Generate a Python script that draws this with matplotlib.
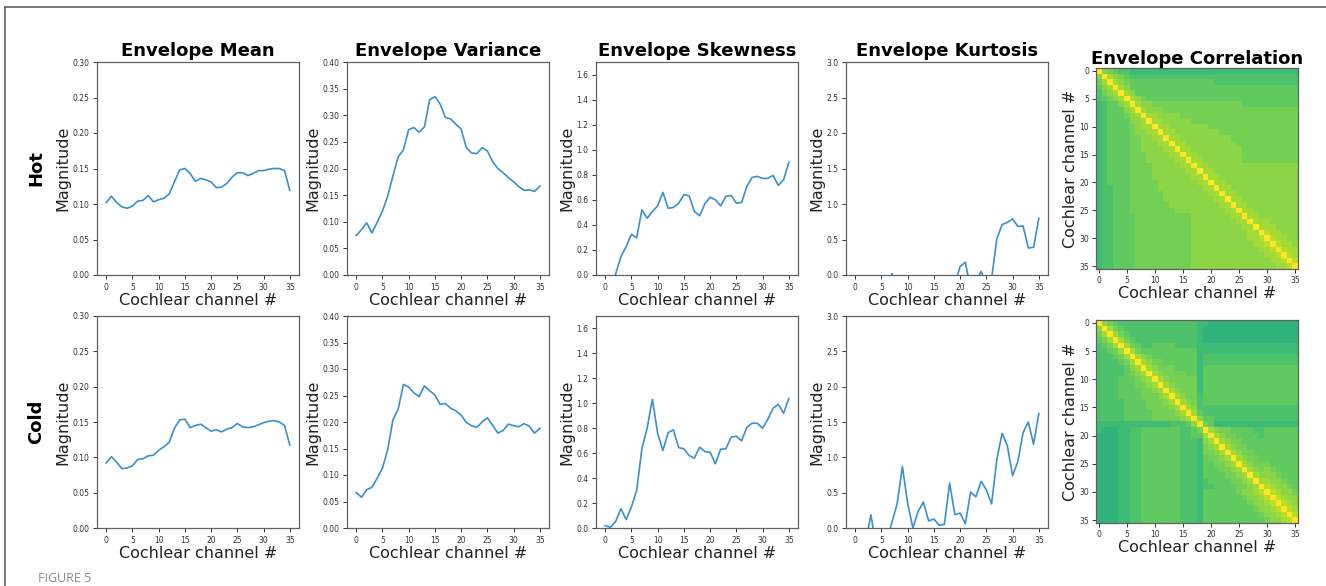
import numpy as np
import matplotlib
matplotlib.use("Agg")
import matplotlib.pyplot as plt
from matplotlib.lines import Line2D

# ---------------------------------------------------------------- data
channels = np.arange(36)
channel_ticks = [0, 5, 10, 15, 20, 25, 30, 35]

stat_titles = ["Envelope Mean", "Envelope Variance", "Envelope Skewness",
               "Envelope Kurtosis", "Envelope Correlation"]
row_labels = ["Hot", "Cold"]

hot_mean = [0.102, 0.111, 0.102, 0.096, 0.094, 0.097, 0.104, 0.105, 0.112, 0.103,
            0.106, 0.108, 0.114, 0.131, 0.148, 0.150, 0.143, 0.132, 0.136, 0.134,
            0.131, 0.123, 0.124, 0.129, 0.138, 0.144, 0.144, 0.140, 0.143, 0.147,
            0.147, 0.149, 0.150, 0.150, 0.147, 0.119]
cold_mean = [0.092, 0.101, 0.093, 0.084, 0.085, 0.088, 0.097, 0.098, 0.102, 0.103,
             0.110, 0.115, 0.121, 0.141, 0.153, 0.154, 0.142, 0.145, 0.147, 0.142,
             0.137, 0.139, 0.136, 0.140, 0.142, 0.148, 0.143, 0.142, 0.143, 0.146,
             0.149, 0.151, 0.152, 0.150, 0.145, 0.117]

hot_var = [0.074, 0.085, 0.098, 0.079, 0.099, 0.120, 0.148, 0.186, 0.222, 0.235,
           0.273, 0.277, 0.268, 0.278, 0.329, 0.335, 0.321, 0.296, 0.293, 0.283,
           0.274, 0.239, 0.229, 0.228, 0.239, 0.233, 0.213, 0.200, 0.192, 0.183,
           0.175, 0.166, 0.159, 0.160, 0.157, 0.167]
cold_var = [0.067, 0.058, 0.072, 0.077, 0.094, 0.113, 0.147, 0.204, 0.224, 0.271,
            0.266, 0.255, 0.248, 0.268, 0.259, 0.251, 0.233, 0.235, 0.226, 0.221,
            0.213, 0.199, 0.193, 0.190, 0.200, 0.208, 0.194, 0.179, 0.184, 0.196,
            0.193, 0.191, 0.197, 0.192, 0.179, 0.188]

hot_skew = [-0.25, -0.12, 0.01, 0.147, 0.227, 0.325, 0.296, 0.520, 0.453, 0.507,
            0.552, 0.659, 0.533, 0.539, 0.573, 0.640, 0.632, 0.507, 0.472, 0.568,
            0.621, 0.600, 0.552, 0.627, 0.635, 0.573, 0.579, 0.707, 0.779, 0.787,
            0.771, 0.771, 0.795, 0.715, 0.760, 0.899]
cold_skew = [0.019, 0.005, 0.053, 0.155, 0.067, 0.168, 0.301, 0.637, 0.800, 1.032,
             0.760, 0.621, 0.765, 0.787, 0.645, 0.635, 0.581, 0.560, 0.648, 0.613,
             0.608, 0.515, 0.632, 0.635, 0.728, 0.736, 0.699, 0.808, 0.840, 0.840,
             0.800, 0.872, 0.960, 0.992, 0.920, 1.037]

hot_kurt = [-0.45, -0.40, -0.35, -0.30, -0.25, -0.20, -0.15, 0.02, -0.20, -0.30,
            -0.35, -0.40, -0.40, -0.35, -0.35, -0.30, -0.30, -0.25, -0.20, -0.12,
            0.118, 0.180, -0.20, -0.10, 0.05, -0.10, -0.05, 0.510, 0.710, 0.740,
            0.790, 0.685, 0.690, 0.380, 0.390, 0.800]
cold_kurt = [-0.40, -0.30, -0.19, 0.188, -0.28, -0.40, -0.20, 0.08, 0.343, 0.870,
             0.350, 0.000, 0.235, 0.367, 0.100, 0.127, 0.040, 0.050, 0.635, 0.190,
             0.210, 0.060, 0.510, 0.440, 0.660, 0.540, 0.340, 0.970, 1.340, 1.165,
             0.740, 0.940, 1.350, 1.500, 1.185, 1.620]

# correlation matrices: lower triangle, one run-length row per channel (1..35),
# each digit is a correlation level, the diagonal is 1
level_base, level_step = 0.58, 0.035
hot_corr_rows = [
    "7", "6,8", "5,7,8", "4,6,7,8", "4,5,6,7,8",
    "3,4,5*2,7,8", "3,4,5*3,7,8", "3,4,5*3,6,7,8", "3,4,5*4,7*2,8",
    "3,4,5*4,6,7,8*2", "3,4,5*4,6,7*2,8*2", "3,4,5*4,6*2,7*2,8*2",
    "3,4,5*4,6*2,7*3,8*2", "3,4,5*4,6*2,7*4,8*2", "3,4,5*4,6*3,7*4,8*2",
    "3,4,5*4,6*3,7*5,8*2", "3,4,5*4,6*4,7*5,8*2", "3,4,5*4,6*4,7*6,8*2",
    "3,4,5*4,6*4,7*7,8*2", "3,4,5*4,6*5,7*7,8*2", "3,4*2,5*3,6*5,7*8,8*2",
    "3,4*2,5*3,6*6,7*8,8*2", "3,4*2,5*3,6*6,7*9,8*2", "3,4*2,5*3,6*7,7*9,8*2",
    "3,4*2,5*3,6*8,7*9,8*2",
    "3,4*2,5*4,6*10,7*7,8*2", "3,4*2,5*4,6*10,7*8,8*2",
    "3,4*2,5*4,6*10,7*9,8*2", "3,4*2,5*4,6*10,7*10,8*2",
    "3,4*2,5*4,6*10,7*10,8*2,9", "3,4*2,5*4,6*10,7*11,8*2,9",
    "3,4*2,5*4,6*10,7*12,8*2,9", "3,4*2,5*4,6*10,7*13,8*2,9",
    "3,4*2,5*4,6*10,7*14,8*2,9", "3,4*2,5*4,6*10,7*15,8*2,9",
]
cold_corr_rows = [
    "7", "6,8", "5,6,8", "4,5,6,8", "4*2,5,6,8",
    "4*3,5,6,8", "4*4,5,6,8", "4*5,5,7,8", "4*5,5,6,7,8",
    "4*4,5*3,6,7,8", "4*4,5*3,6*2,7,8", "4*4,5*4,6*2,7,8",
    "4*4,5*4,6*3,7,8", "4*5,5*4,6*3,7,8", "4*5,5*4,6*4,7,8",
    "4*5,5*5,6*4,7,8", "4*5,5*5,6*5,7,8",
    "3*13,4*3,5,7",
    "3,2*3,3*2,4*2,5*7,4*2,5,6",
    "2*4,3*2,4*2,5*7,4*2,5*2,8",
    "2*4,3*2,4*2,5*7,4*3,3,7,8",
    "2*4,3*2,4*2,5*7,4*3,3,6,7,8",
    "2*4,3*2,4*2,5*7,4*3,3,6*2,7,8",
    "2*4,3*2,4*2,5*7,4*3,3,5,6*2,7,8",
    "2*4,3*2,4*2,5*7,4*3,3,5*2,6*2,7,8",
    "2*4,3*2,4*2,5*7,4*3,3,5*3,6*2,7,8",
    "2*4,3*2,4*2,5*7,4*3,3,5*4,6*2,7,8",
    "2*4,3*2,4*2,5*7,4*3,3,4,5*4,6*2,7,8",
    "2*4,3*2,4*2,5*7,4*3,3,4*2,5*4,6*2,7,8",
    "2*4,3*2,4*2,5*7,4*3,3,5*6,6,7*2,8,9",
    "2*4,3*2,4*2,5*7,4*3,3,5*7,6,7*2,8,9",
    "2*4,3*2,4*2,5*7,4*3,3,5*8,6,7*2,8,9",
    "2*4,3*2,4*2,5*7,4*3,3,5*9,6,7*2,8,9",
    "2*4,3*2,4*2,5*7,4*3,3,5*10,6,7*2,8,9",
    "2*4,3*2,4*2,5*7,4*3,3,5*11,6,7*2,8,9",
]

mag_limits = [(0, 0.30), (0, 0.40), (0, 1.7), (0, 3.0)]
mag_ticks = [np.arange(0, 0.301, 0.05), np.arange(0, 0.401, 0.05),
             np.arange(0, 1.61, 0.2), np.arange(0, 3.01, 0.5)]
mag_fmt = ["{:.2f}", "{:.2f}", "{:.1f}", "{:.1f}"]

series = [[hot_mean, hot_var, hot_skew, hot_kurt],
          [cold_mean, cold_var, cold_skew, cold_kurt]]
corr_rows = [hot_corr_rows, cold_corr_rows]


def lower_triangle_matrix(rows):
    n = len(rows) + 1
    m = np.ones((n, n))
    for i, row in enumerate(rows, start=1):
        levels = []
        for tok in row.split(","):
            if "*" in tok:
                d, c = tok.split("*")
                levels += [int(d)] * int(c)
            else:
                levels.append(int(tok))
        vals = level_base + level_step * np.array(levels[:i], dtype=float)
        m[i, :len(vals)] = vals
        m[:len(vals), i] = vals
    return m


# ---------------------------------------------------------------- figure
W, H = 1326, 586
fig = plt.figure(figsize=(W / 100, H / 100), dpi=100)
fig.patch.set_facecolor("white")


def axes_px(left, top, right, bottom):
    return fig.add_axes([left / W, 1 - bottom / H, (right - left) / W, (bottom - top) / H])


line_lefts = [97, 347, 596, 846]
row_boxes = [(62, 275), (316, 528)]
heat_boxes = [(68, 269), (320, 523)]
spine_color = "#606060"
tick_color = "#333333"

for r in range(2):
    top, bottom = row_boxes[r]
    for c in range(4):
        ax = axes_px(line_lefts[c], top, line_lefts[c] + 202, bottom)
        ax.plot(channels, series[r][c], color="#3a8fd0", lw=1.2)
        ax.set_xlim(-1.75, 36.75)
        ax.set_ylim(*mag_limits[c])
        ax.set_xticks(channel_ticks)
        ax.set_yticks(mag_ticks[c])
        ax.set_yticklabels([mag_fmt[c].format(v) for v in mag_ticks[c]])
        ax.tick_params(labelsize=5.5, length=3, width=0.7, colors=tick_color, pad=2.5)
        for s in ax.spines.values():
            s.set_color(spine_color)
            s.set_linewidth(0.9)
        ax.set_xlabel("Cochlear channel #", fontsize=11.5, color="#222222", labelpad=1)
        ax.set_ylabel("Magnitude", fontsize=11.5, color="#222222", labelpad=1.5)
        if r == 0:
            ax.set_title(stat_titles[c], fontsize=13, fontweight="bold", pad=4)

    htop, hbottom = heat_boxes[r]
    hax = axes_px(1096, htop, 1298, hbottom)
    hax.imshow(lower_triangle_matrix(corr_rows[r]), cmap="viridis", vmin=0, vmax=1,
               aspect="auto", interpolation="nearest")
    hax.set_xticks(channel_ticks)
    hax.set_yticks(channel_ticks)
    hax.tick_params(labelsize=5.5, length=3, width=0.7, colors=tick_color, pad=2)
    for s in hax.spines.values():
        s.set_color(spine_color)
        s.set_linewidth(0.9)
    hax.set_xlabel("Cochlear channel #", fontsize=11.5, color="#222222", labelpad=1)
    hax.set_ylabel("Cochlear channel #", fontsize=11.5, color="#222222", labelpad=1)
    if r == 0:
        hax.set_title(stat_titles[4], fontsize=13, fontweight="bold", pad=2)

    fig.text(36 / W, 1 - (top + bottom) / 2 / H, row_labels[r], rotation=90,
             fontsize=13, fontweight="bold", ha="center", va="center")

# page frame and caption
fig.add_artist(Line2D([5 / W, 1], [1 - 7 / H, 1 - 7 / H], color="#555555", lw=1.1))
fig.add_artist(Line2D([5 / W, 5 / W], [0, 1 - 7 / H], color="#555555", lw=1.1))
fig.text(38 / W, 1 - 585.5 / H, "FIGURE 5", fontsize=9, color="#8a8a8a",
         family="Open Sans", ha="left", va="bottom")

fig.savefig("out.png", dpi=100)
